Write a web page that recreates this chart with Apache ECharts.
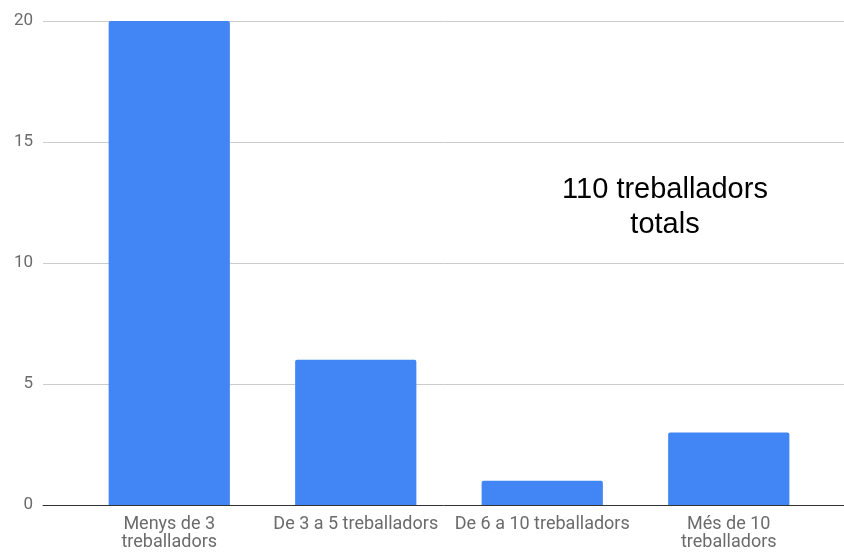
<!DOCTYPE html>
<html>
<head>
<meta charset="utf-8">
<script src="https://cdn.jsdelivr.net/npm/echarts@6/dist/echarts.min.js"></script>
<style>
  html, body { margin: 0; padding: 0; background: #fff; }
  #chart { width: 844px; height: 553px; }
</style>
</head>
<body>
<div id="chart"></div>
<script>
// categories and values
const categories = ['Menys de 3\ntreballadors', 'De 3 a 5 treballadors', 'De 6 a 10 treballadors', 'Més de 10\ntreballadors'];
const workers = [20, 6, 1, 3];
const yTicks = [0, 5, 10, 15, 20];
const note = '110 treballadors\ntotals';

const chart = echarts.init(document.getElementById('chart'));

const option = {
  animation: false,
  grid: [
    // bars
    { left: 76, right: 22, top: 21, bottom: 48 },
    // gridlines / y labels span the full width
    { left: 43, right: 0, top: 21, bottom: 48 }
  ],
  xAxis: [
    {
      type: 'category',
      gridIndex: 0,
      data: categories,
      axisLine: { show: false },
      axisTick: { show: false },
      axisLabel: {
        interval: 0,
        color: '#6b6b6b',
        fontFamily: 'Roboto',
        fontSize: 18,
        lineHeight: 18,
        margin: 10
      }
    },
    {
      type: 'value',
      gridIndex: 1,
      min: 0, max: 1,
      axisLine: { show: true, lineStyle: { color: '#333', width: 1 } },
      axisTick: { show: false },
      axisLabel: { show: false },
      splitLine: { show: false }
    }
  ],
  yAxis: [
    {
      type: 'value',
      gridIndex: 0,
      min: yTicks[0], max: yTicks[yTicks.length - 1], interval: 5,
      axisLabel: { show: false },
      axisLine: { show: false },
      axisTick: { show: false },
      splitLine: { show: false }
    },
    {
      type: 'value',
      gridIndex: 1,
      min: yTicks[0], max: yTicks[yTicks.length - 1], interval: 5,
      axisLine: { show: false },
      axisTick: { show: false },
      axisLabel: {
        color: '#6b6b6b',
        fontFamily: 'Roboto',
        fontSize: 17,
        margin: 10
      },
      splitLine: { lineStyle: { color: '#ccc', width: 1 } }
    }
  ],
  series: [
    {
      type: 'bar',
      xAxisIndex: 0,
      yAxisIndex: 0,
      data: workers,
      barCategoryGap: '35%',
      itemStyle: { color: '#4285f4', borderRadius: [2, 2, 0, 0] },
      z: 3
    }
  ],
  graphic: [
    {
      type: 'text',
      x: 665,
      y: 172,
      style: {
        text: note,
        textAlign: 'center',
        fontFamily: 'Liberation Sans',
        fontSize: 29,
        lineHeight: 35,
        fill: '#000'
      }
    }
  ]
};

option && chart.setOption(option);
</script>
</body>
</html>
